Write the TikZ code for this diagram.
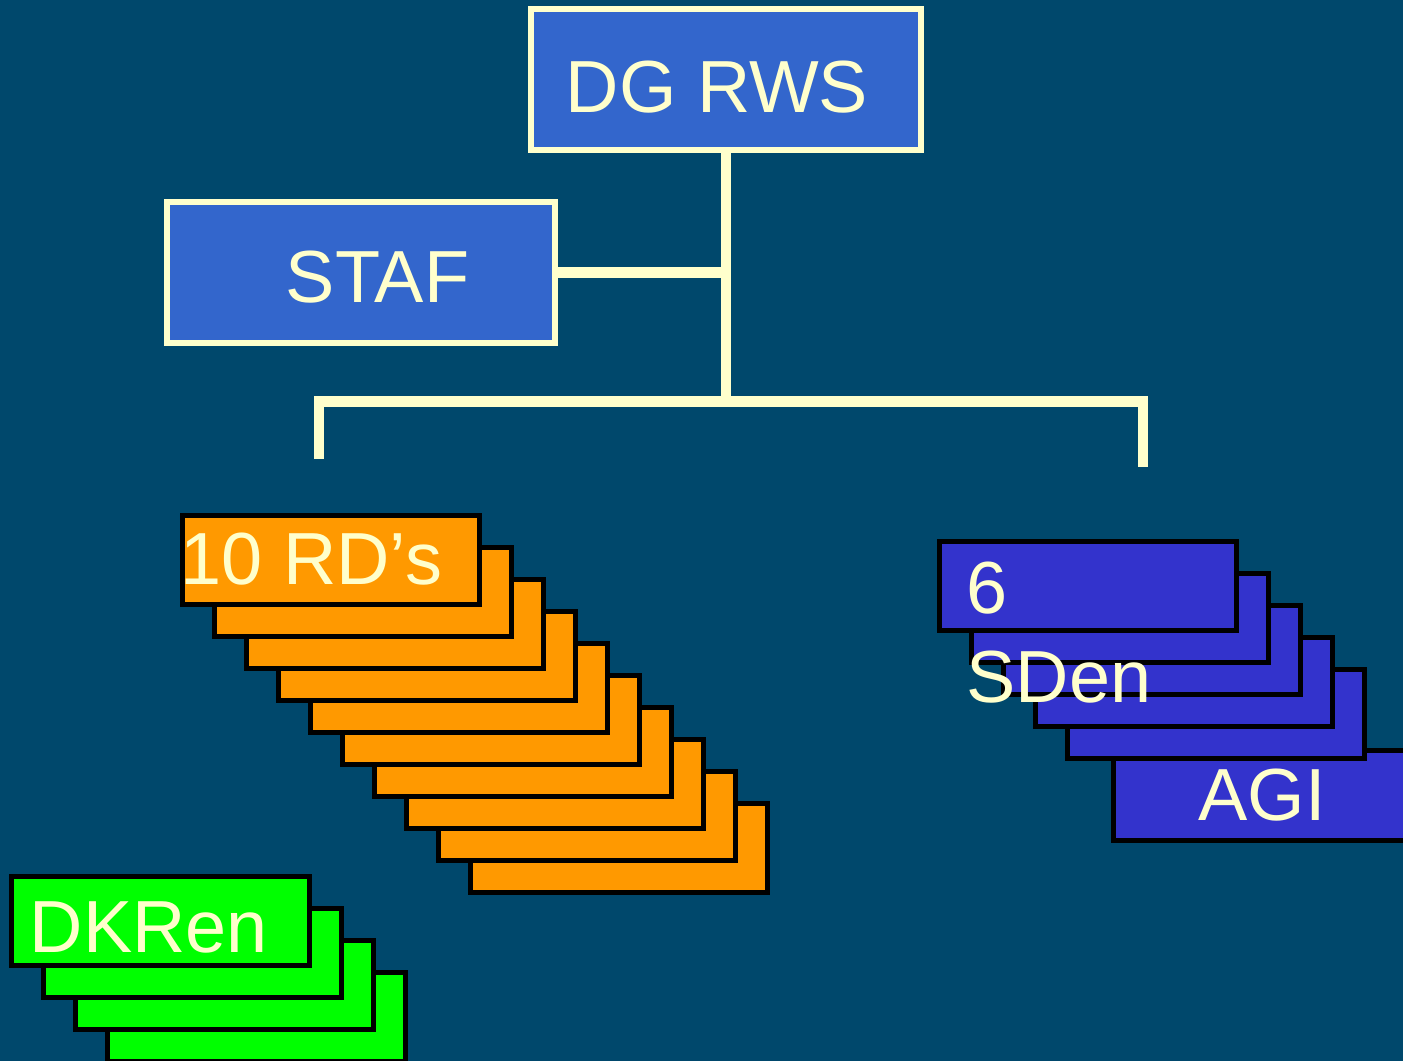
\documentclass[tikz,border=0pt]{standalone}
\usepackage{fontspec}
\setmainfont{Liberation Sans}
\usepackage{xcolor}
\usepackage{tikz}
\definecolor{bgblue}{RGB}{0, 72, 108}
\definecolor{cream}{RGB}{255, 255, 204}
\definecolor{rwsblue}{RGB}{51, 102, 204}
\definecolor{sdblue}{RGB}{51, 51, 204}
\definecolor{rdorange}{RGB}{255, 153, 0}
\definecolor{dkgreen}{RGB}{0, 255, 0}
\usetikzlibrary{positioning, calc}

\begin{document}
\begin{tikzpicture}[
        x=0.01cm, y=-0.01cm,
        bigfont/.style={font=\fontsize{21pt}{25.3pt}\selectfont, text=cream},
        topbox/.style={rectangle, draw=cream, fill=rwsblue, line width=0.06cm,
                    minimum width=3.9cm, minimum height=1.41cm, inner sep=0pt,
                    text depth=0pt, bigfont},
        stackbox/.style={rectangle, draw=black, line width=0.05cm,
                    minimum width=2.97cm, minimum height=0.89cm, inner sep=0pt,
                    bigfont},
        rdbox/.style={stackbox, fill=rdorange},
        sdbox/.style={stackbox, fill=sdblue},
        dkbox/.style={stackbox, fill=dkgreen},
        stacklabel/.style={bigfont, inner sep=0pt, anchor=base west, align=left},
        conn/.style={draw=cream, line width=0.1cm}
    ]
        % Background
        \fill[bgblue] (0,0) rectangle (1403,1061);
        \useasboundingbox (0,0) rectangle (1403,1061);

        % Top nodes
        \node[topbox, text height=0.65cm] (dg) at (726,79.5) {DG RWS\hspace*{0.18cm}};
        \node[topbox, text height=0.59cm, minimum width=3.88cm, minimum height=1.4cm] (staf) at (361,272.5) {\hspace*{0.33cm}STAF};

        % Stacks, back to front
        \foreach \n in {10,9,...,1}
            \node[rdbox] (rd\n) at ({331+32*(\n-1)},{560+32*(\n-1)}) {};
        \node[sdbox] (agi) at (1262,795.5) {AGI};
        \foreach \n in {5,4,...,1}
            \node[sdbox] (sd\n) at ({1088+32*(\n-1)},{586+32*(\n-1)}) {};
        \foreach \n in {4,3,2,1}
            \node[dkbox] (dk\n) at ({160.5+32*(\n-1)},{921+32*(\n-1)}) {};

        % Stack labels
        \node[stacklabel] (rdtext) at (180,584) {10 RD’s};
        \node[stacklabel] (sdtext) at (966,702) {6\\SDen};
        \node[stacklabel] (dktext) at (29,952) {DKRen};

        % Connectors
        \coordinate (bus) at (726,401.5);
        \coordinate (rdtip) at (318.5,459);
        \coordinate (sdtip) at (1142.5,467);
        \draw[conn] (dg.south) -- (bus);
        \draw[conn] (staf.east) -- (staf.east -| dg.south);
        \draw[conn] (rdtip) -- (rdtip |- bus) -- (sdtip |- bus) -- (sdtip);
    \end{tikzpicture}
\end{document}
